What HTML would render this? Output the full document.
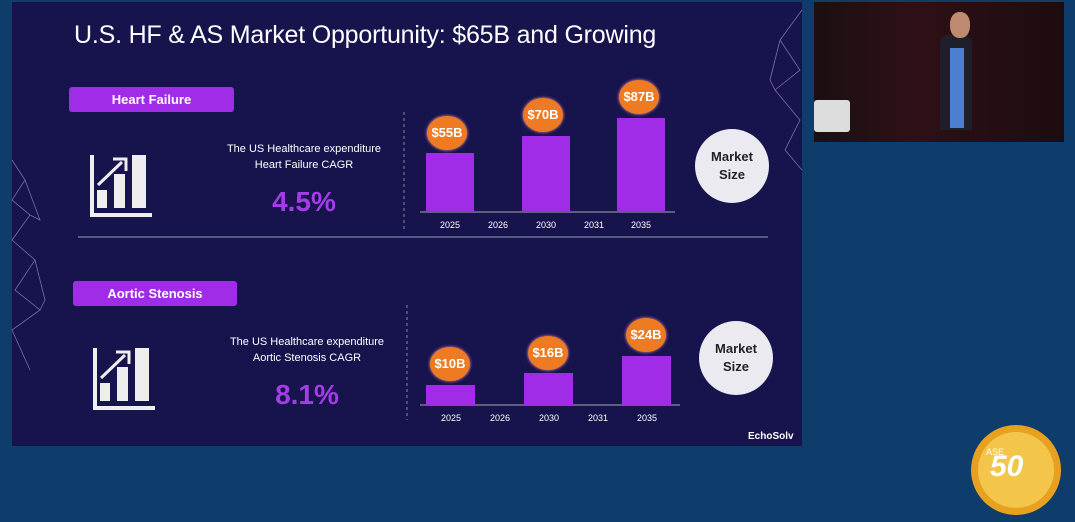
<!DOCTYPE html>
<html><head><style>
body{margin:0;width:1075px;height:522px;background:#0e3d6b;position:relative;overflow:hidden;font-family:"Liberation Sans",sans-serif}
.a{position:absolute}
.slide{left:12px;top:2px;width:790px;height:444px;background:#16134d}
.t{color:#fff;font-size:25px;left:74px;top:21px;white-space:nowrap;letter-spacing:-0.2px}
.lab{background:#a12ce8;color:#fff;font-weight:bold;font-size:13px;text-align:center;border-radius:3px;line-height:25px}
.bar{background:#a12ce8}
.c{background:#ee7a22;border-radius:50%;color:#fff;font-weight:bold;font-size:13px;text-align:center;width:40px;height:34px;line-height:34px;box-shadow:0 0 3px #f9a}
.yr{color:#fff;font-size:9px;width:40px;text-align:center}
.txt{color:#fff;font-size:11px;text-align:center;width:200px;line-height:16px}
.pct{color:#a43ce8;font-weight:bold;font-size:28px;width:200px;text-align:center}
.ms{background:#eceaf1;border-radius:50%;width:74px;height:74px;color:#222;font-weight:bold;font-size:13px;text-align:center;display:flex;align-items:center;justify-content:center;line-height:18px}
</style></head><body>
<div class="a slide"></div>
<div class="a t">U.S. HF &amp; AS Market Opportunity: $65B and Growing</div>
<div class="a lab" style="left:69px;top:87px;width:165px">Heart Failure</div>
<div class="a lab" style="left:73px;top:281px;width:164px">Aortic Stenosis</div>
<svg class="a" style="left:0;top:0" width="1075" height="522">
<line x1="78" y1="237" x2="768" y2="237" stroke="#6a6f9a" stroke-width="1.5"/>
<line x1="404" y1="112" x2="404" y2="230" stroke="#888" stroke-dasharray="3,3"/>
<line x1="407" y1="305" x2="407" y2="420" stroke="#888" stroke-dasharray="3,3"/>
<line x1="420" y1="212" x2="675" y2="212" stroke="#aaa"/>
<line x1="420" y1="405" x2="680" y2="405" stroke="#aaa"/>
<g fill="#eee"><rect x="90" y="155" width="4" height="62"/><rect x="90" y="213" width="62" height="4"/><rect x="97" y="190" width="10" height="18"/><rect x="114" y="174" width="11" height="34"/><rect x="132" y="155" width="14" height="53"/></g>
<path d="M98 185 L122 162" stroke="#eee" stroke-width="3"/><path d="M113 159 L126 159 L126 171" stroke="#eee" stroke-width="3" fill="none"/>
<g fill="#eee"><rect x="93" y="348" width="4" height="62"/><rect x="93" y="406" width="62" height="4"/><rect x="100" y="383" width="10" height="18"/><rect x="117" y="367" width="11" height="34"/><rect x="135" y="348" width="14" height="53"/></g>
<path d="M101 378 L125 355" stroke="#eee" stroke-width="3"/><path d="M116 352 L129 352 L129 364" stroke="#eee" stroke-width="3" fill="none"/>
<g stroke="#7a6fa8" fill="none" stroke-width="0.8"><path d="M12 160 L25 180 L12 200 L30 215 L12 240 L35 260 L15 290 L40 310 L12 330 L30 370 M25 180 L40 220 L30 215 M35 260 L45 300 L40 310"/>
<path d="M802 10 L780 40 L800 70 L775 90 L800 120 L785 150 L802 170 M780 40 L770 80 L775 90"/></g>
<circle cx="1016" cy="470" r="45" fill="#e8a020"/><circle cx="1016" cy="470" r="38" fill="#f3c54a"/>
</svg>
<div class="a" style="left:990px;top:450px;color:#fff;font-size:30px;font-style:italic;font-weight:bold">50</div>
<div class="a" style="left:986px;top:447px;color:#fff;font-size:9px">ASE</div>
<div class="a" style="left:814px;top:2px;width:250px;height:140px;background:linear-gradient(90deg,#1a0f12,#2e1016 40%,#1c0c10)"></div>
<div class="a" style="left:940px;top:35px;width:32px;height:95px;background:#1e1f2a;border-radius:8px 8px 0 0"></div>
<div class="a" style="left:950px;top:48px;width:14px;height:80px;background:#4d7fd0"></div>
<div class="a" style="left:950px;top:12px;width:20px;height:26px;background:#c08a70;border-radius:45%"></div>
<div class="a" style="left:814px;top:100px;width:36px;height:32px;background:#ddd;border-radius:3px"></div>
<div class="a txt" style="left:204px;top:141px">The US Healthcare expenditure<br>Heart Failure CAGR</div>
<div class="a pct" style="left:204px;top:186px">4.5%</div>
<div class="a txt" style="left:207px;top:334px">The US Healthcare expenditure<br>Aortic Stenosis CAGR</div>
<div class="a pct" style="left:207px;top:379px">8.1%</div>
<div class="a bar" style="left:426px;top:153px;width:48px;height:59px"></div>
<div class="a bar" style="left:522px;top:136px;width:48px;height:76px"></div>
<div class="a bar" style="left:617px;top:118px;width:48px;height:94px"></div>
<div class="a c" style="left:427px;top:116px">$55B</div>
<div class="a c" style="left:523px;top:98px">$70B</div>
<div class="a c" style="left:619px;top:80px">$87B</div>
<div class="a yr" style="left:430px;top:220px">2025</div><div class="a yr" style="left:478px;top:220px">2026</div><div class="a yr" style="left:526px;top:220px">2030</div><div class="a yr" style="left:574px;top:220px">2031</div><div class="a yr" style="left:621px;top:220px">2035</div>
<div class="a bar" style="left:426px;top:385px;width:49px;height:20px"></div>
<div class="a bar" style="left:524px;top:373px;width:49px;height:32px"></div>
<div class="a bar" style="left:622px;top:356px;width:49px;height:49px"></div>
<div class="a c" style="left:430px;top:347px">$10B</div>
<div class="a c" style="left:528px;top:336px">$16B</div>
<div class="a c" style="left:626px;top:318px">$24B</div>
<div class="a yr" style="left:431px;top:413px">2025</div><div class="a yr" style="left:480px;top:413px">2026</div><div class="a yr" style="left:529px;top:413px">2030</div><div class="a yr" style="left:578px;top:413px">2031</div><div class="a yr" style="left:627px;top:413px">2035</div>
<div class="a ms" style="left:695px;top:129px">Market<br>Size</div>
<div class="a ms" style="left:699px;top:321px">Market<br>Size</div>
<div class="a" style="left:748px;top:431px;color:#fff;font-size:10px;font-weight:bold">EchoSolv</div>
</body></html>
